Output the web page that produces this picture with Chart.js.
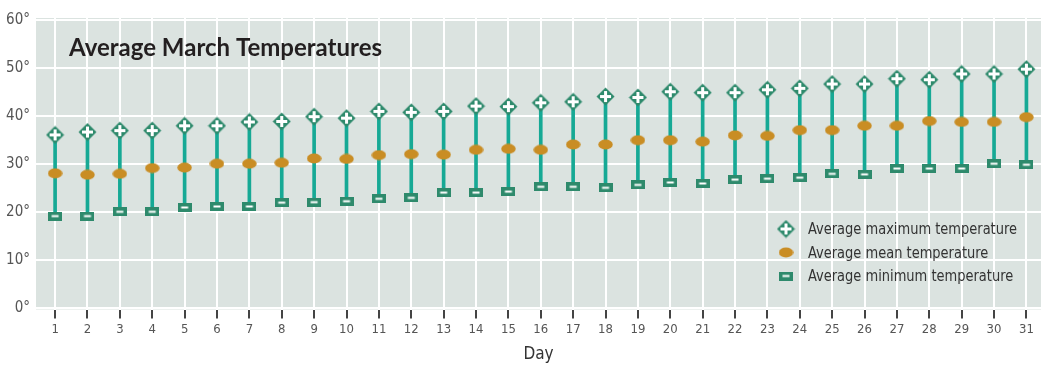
<!DOCTYPE html>
<html>
<head>
<meta charset="utf-8">
<script src="https://cdn.jsdelivr.net/npm/chart.js@4.4.1/dist/chart.umd.min.js"></script>
<style>
  html, body { margin: 0; padding: 0; background: #fff; }
  #wrap { width: 1041px; height: 365px; }
</style>
</head>
<body>
<div id="wrap"><canvas id="tempChart" width="1041" height="365"></canvas></div>
<script>
// Données (degrés)
const days = [1, 2, 3, 4, 5, 6, 7, 8, 9, 10, 11, 12, 13, 14, 15, 16, 17, 18, 19, 20, 21, 22, 23, 24, 25, 26, 27, 28, 29, 30, 31];
const maxTemps = [36.1, 36.7, 37.0, 37.0, 38.0, 38.0, 38.8, 38.9, 39.9, 39.6, 41.0, 40.8, 41.0, 42.1, 42.0, 42.8, 43.0, 44.1, 43.9, 45.1, 44.9, 44.9, 45.5, 45.8, 46.7, 46.7, 47.8, 47.6, 48.8, 48.8, 49.8];
const meanTemps = [28.1, 27.8, 28.0, 29.2, 29.3, 30.1, 30.1, 30.3, 31.2, 31.1, 31.9, 32.1, 32.0, 33.0, 33.2, 33.0, 34.1, 34.1, 35.0, 35.0, 34.7, 36.0, 35.9, 37.1, 37.1, 38.0, 38.0, 39.0, 38.8, 38.8, 39.8];
const minTemps = [19.2, 19.2, 20.1, 20.1, 21.0, 21.2, 21.2, 22.0, 22.1, 22.3, 22.8, 23.0, 24.1, 24.1, 24.3, 25.3, 25.3, 25.1, 25.7, 26.2, 26.0, 26.8, 27.0, 27.2, 28.0, 27.9, 29.1, 29.1, 29.1, 30.1, 29.9];
const yTicks = [0, 10, 20, 30, 40, 50, 60];
const seriesLabels = ['Average maximum temperature', 'Average mean temperature', 'Average minimum temperature'];
const chartTitle = 'Average March Temperatures';

const GREEN = '#2e8a6c';
const TEAL = '#16a995';
const OCHRE = '#c98d24';
const PLOT_BG = '#dbe3e0';
const NARROW = "'Liberation Sans Narrow', 'DejaVu Sans Condensed', 'Roboto', sans-serif";

// Marqueurs dessinés sur des petits canvas (utilisés comme pointStyle)
function makeMaxMarker() {
    const c = document.createElement('canvas');
    c.width = 19; c.height = 19;
    const g = c.getContext('2d');
    g.fillStyle = GREEN;
    g.beginPath();
    g.moveTo(9.5, 0.5); g.lineTo(18.5, 9.5); g.lineTo(9.5, 18.5); g.lineTo(0.5, 9.5);
    g.closePath();
    g.fill();
    g.fillStyle = '#fff';
    g.fillRect(4, 8, 11, 3);
    g.fillRect(8, 4, 3, 11);
    return c;
}
function makeMeanMarker() {
    const c = document.createElement('canvas');
    c.width = 15; c.height = 11;
    const g = c.getContext('2d');
    g.fillStyle = OCHRE;
    g.beginPath();
    g.ellipse(7.5, 5.5, 7.2, 5, 0, 0, Math.PI * 2);
    g.fill();
    return c;
}
function makeMinMarker() {
    const c = document.createElement('canvas');
    c.width = 14; c.height = 9;
    const g = c.getContext('2d');
    g.fillStyle = GREEN;
    g.fillRect(0, 0, 14, 9);
    g.fillStyle = '#fff';
    g.fillRect(3.5, 3.5, 7, 2);
    return c;
}
const maxMarker = makeMaxMarker();
const meanMarker = makeMeanMarker();
const minMarker = makeMinMarker();

// Fond de la zone de tracé
const plotBackground = {
    id: 'plotBackground',
    beforeDraw(chart) {
        const { ctx, chartArea: a } = chart;
        ctx.save();
        ctx.fillStyle = PLOT_BG;
        ctx.fillRect(a.left, a.top, a.right - a.left, a.bottom - a.top);
        ctx.restore();
    }
};

// Titre et légende à l'intérieur du graphique
const insideText = {
    id: 'insideText',
    afterDraw(chart) {
        const { ctx, chartArea: a } = chart;
        ctx.save();
        ctx.fillStyle = '#231f20';
        ctx.font = "bold 24px Lato, 'Open Sans', sans-serif";
        ctx.textBaseline = 'alphabetic';
        ctx.fillText(chartTitle, a.left + 33, a.top + 38);

        const markers = [maxMarker, meanMarker, minMarker];
        ctx.font = '16px ' + NARROW;
        ctx.fillStyle = '#333';
        ctx.textBaseline = 'middle';
        // police étroite : on resserre le texte à la largeur de l'original
        const squeeze = Math.min(1, 209 / ctx.measureText(seriesLabels[0]).width);
        markers.forEach((m, i) => {
            const y = 229 + i * 23.5;
            ctx.drawImage(m, 786 - m.width / 2, y - m.height / 2);
            ctx.save();
            ctx.translate(808, y + 1);
            ctx.scale(squeeze, 1);
            ctx.fillText(seriesLabels[i], 0, 0);
            ctx.restore();
        });
        ctx.restore();
    }
};

const ctx = document.getElementById('tempChart').getContext('2d');
new Chart(ctx, {
    type: 'bar',
    data: {
        datasets: [
            {
                type: 'line',
                label: seriesLabels[0],
                data: days.map((d, i) => ({ x: d, y: maxTemps[i] })),
                showLine: false,
                pointStyle: maxMarker,
                order: 0
            },
            {
                type: 'line',
                label: seriesLabels[1],
                data: days.map((d, i) => ({ x: d, y: meanTemps[i] })),
                showLine: false,
                pointStyle: meanMarker,
                order: 1
            },
            {
                type: 'line',
                label: seriesLabels[2],
                data: days.map((d, i) => ({ x: d, y: minTemps[i] })),
                showLine: false,
                pointStyle: minMarker,
                order: 2
            },
            {
                type: 'bar',
                label: 'range',
                data: days.map((d, i) => ({ x: d, y: [minTemps[i], maxTemps[i]] })),
                backgroundColor: TEAL,
                barThickness: 3,
                order: 10
            }
        ]
    },
    options: {
        responsive: false,
        animation: false,
        maintainAspectRatio: false,
        layout: { autoPadding: false, padding: { top: 18, right: 0, left: 0, bottom: 0 } },
        plugins: {
            legend: { display: false },
            tooltip: { enabled: false }
        },
        scales: {
            x: {
                type: 'linear',
                offset: false,
                min: 0.41,
                max: 31.45,
                afterBuildTicks: s => { s.ticks = days.map(v => ({ value: v })); },
                afterFit: s => { s.height = 55.5; },
                grid: {
                    offset: false,
                    color: '#ffffff',
                    lineWidth: 2,
                    drawTicks: true,
                    tickLength: 9,
                    tickColor: '#444',
                    tickWidth: 2
                },
                border: { display: false },
                ticks: {
                    color: '#555',
                    font: { family: NARROW, size: 13 },
                    padding: 3,
                    maxRotation: 0,
                    autoSkip: false
                },
                title: {
                    display: true,
                    text: 'Day',
                    color: '#333',
                    font: { family: NARROW, size: 17 },
                    padding: { top: 0, bottom: 0 }
                }
            },
            y: {
                min: -0.25,
                max: 60.45,
                afterBuildTicks: s => { s.ticks = yTicks.map(v => ({ value: v })); },
                afterFit: s => { s.width = 36; },
                grid: {
                    color: '#ffffff',
                    lineWidth: 2,
                    drawTicks: false
                },
                border: { display: false },
                ticks: {
                    color: '#555',
                    font: { family: NARROW, size: 15 },
                    padding: 6,
                    callback: v => v + '°'
                }
            }
        }
    },
    plugins: [plotBackground, insideText]
});
</script>
</body>
</html>
